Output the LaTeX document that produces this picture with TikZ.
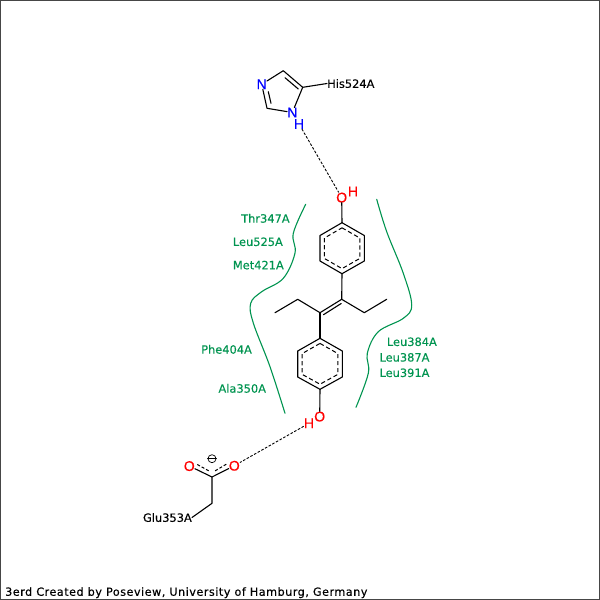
\documentclass[tikz,border=0pt]{standalone}
\usepackage{fontspec}
\usetikzlibrary{calc}
\setmainfont{DejaVu Sans}
\newfontfamily\labfont[FakeBold=0.35]{DejaVu Sans}
\newfontfamily\footfont[FakeBold=0.35,LetterSpace=4.5]{DejaVu Sans}
\newfontfamily\atomfont[FakeBold=0.5]{Liberation Sans}
\definecolor{resgreen}{RGB}{0,148,80}
\definecolor{frameg}{RGB}{70,70,70}
\tikzset{
  bond/.style={draw=black,line width=1.1pt,line cap=round,line join=round},
  arom/.style={draw=black,line width=1pt,dash pattern=on 4.2pt off 2.8pt},
  hbond/.style={draw=black,line width=0.9pt,dash pattern=on 2.6pt off 1.6pt},
  contour/.style={draw=resgreen,line width=1.1pt,line cap=round},
  atom/.style={inner sep=0pt,font=\atomfont\fontsize{14}{15}\selectfont},
  redatom/.style={atom,text=red},
  blueatom/.style={atom,text=blue},
  reslabel/.style={inner sep=0pt,font=\labfont\fontsize{11.4}{12}\selectfont},
  greenlabel/.style={reslabel,text=resgreen},
  every node/.append style={text depth=0pt}
}
\begin{document}
\begin{tikzpicture}[x=1pt,y=-1pt]
\useasboundingbox (0,0) rectangle (600,600);
\fill[white] (0,0) rectangle (600,600);
\draw[frameg,line width=1pt] (0.5,0.5) rectangle (599.5,599.5);
% imidazole
\node[blueatom] (N3) at (261.7,84.3) {N};
\node[blueatom] (N1) at (292.3,112.5) {N};
\node[blueatom] (H1) at (299,124) {H};
\coordinate (C5) at (283.3,70.7);
\coordinate (C4) at (302.7,87.3);
\coordinate (C2) at (267,108.3);
\node[reslabel,anchor=west] (His) at (327,83.5) {His524A};
\draw[bond] (N3) -- (C5) -- (C4) -- (N1) -- (C2) -- (N3);
\draw[bond] ($(C5)+(1.7,7)$) -- ($(C4)+(-4.4,1.7)$);
\draw[bond] ($(C2)+(4,-5)$) -- ($(N3)+(6.6,7.4)$);
\draw[bond] (C4) -- (His.west);
% upper phenol
\node[redatom] (O1) at (341.7,197.5) {O};
\node[redatom] (HO1) at (353,191.5) {H};
\draw[hbond] (H1) -- (O1);
\coordinate (A1) at (342,222.7);
\coordinate (A2) at (364.3,235.5);
\coordinate (A3) at (364.3,261);
\coordinate (A4) at (342,273.7);
\coordinate (A5) at (320,261);
\coordinate (A6) at (320,235.5);
\coordinate (AC) at (342,248.2);
\draw[bond] (A1) -- (A2) -- (A3) -- (A4) -- (A5) -- (A6) -- cycle;
\draw[bond] (O1) -- (A1);
\draw[arom] ($(AC)!0.8!(A1)$) -- ($(AC)!0.8!(A2)$) -- ($(AC)!0.8!(A3)$) -- ($(AC)!0.8!(A4)$) -- ($(AC)!0.8!(A5)$) -- ($(AC)!0.8!(A6)$) -- cycle;
% central alkene
\coordinate (D1) at (341.7,299.3);
\coordinate (D2) at (320,312.7);
\coordinate (E1) at (364.3,312.7);
\coordinate (E2) at (386.7,299.3);
\coordinate (F1) at (297.7,299.3);
\coordinate (F2) at (275,312.7);
\draw[bond] (A4) -- (D1) -- (D2);
\draw[bond] (D1) -- (E1) -- (E2);
\draw[bond] (D2) -- (F1) -- (F2);
\draw[bond] ($(D1)+(-0.5,4.2)$) -- ($(D2)+(3.5,2)$);
% lower phenol
\coordinate (B1) at (320,338.3);
\coordinate (B2) at (342.3,351);
\coordinate (B3) at (342.3,377);
\coordinate (B4) at (320,389.3);
\coordinate (B5) at (297.7,377);
\coordinate (B6) at (297.7,351);
\coordinate (BC) at (320,363.8);
\draw[bond] (D2) -- (B1);
\draw[bond] (B1) -- (B2) -- (B3) -- (B4) -- (B5) -- (B6) -- cycle;
\draw[arom] ($(BC)!0.8!(B1)$) -- ($(BC)!0.8!(B2)$) -- ($(BC)!0.8!(B3)$) -- ($(BC)!0.8!(B4)$) -- ($(BC)!0.8!(B5)$) -- ($(BC)!0.8!(B6)$) -- cycle;
\node[redatom] (O2) at (319.7,416.5) {O};
\node[redatom] (HO2) at (309,423.3) {H};
\draw[bond] (B4) -- (O2);
% carboxylate
\node[redatom] (O3) at (234.3,465.7) {O};
\node[redatom] (O4) at (189.3,466) {O};
\coordinate (C1) at (212,477);
\coordinate (CH) at (212,503.3);
\node[reslabel,anchor=east] (Glu) at (192,517.5) {Glu353A};
\draw[hbond] (HO2) -- (O3);
\draw[bond] (O4) -- (C1) -- (O3);
\draw[arom,dash pattern=on 3pt off 2pt] ($(O4)+(8,-1.5)$) -- ($(C1)+(-2,-5.5)$);
\draw[arom,dash pattern=on 3pt off 2pt] ($(O3)+(-8,-1.5)$) -- ($(C1)+(2,-5.5)$);
\draw[bond] (C1) -- (CH) -- (Glu.east);
\node[draw=black,circle,line width=0.7pt,minimum size=8pt,inner sep=0pt] (Neg) at (212,458.7) {};
\draw[bond,line width=0.9pt] (Neg.west) -- (Neg.east);
% contours
\draw[contour] plot[smooth,tension=0.6] coordinates {(305.7,204.3) (293.3,233.3) (295,253) (283.3,278.3) (261.7,291.7) (250.7,303.3) (253.3,323) (270,366.7) (285,413.3)};
\draw[contour] plot[smooth,tension=0.6] coordinates {(376.7,199.3) (386.7,231.7) (403.3,273.3) (411.7,305) (403.3,318.3) (378.3,331.7) (367.3,353.3) (368.3,373.3) (356,407.3)};
% residue labels
\node[greenlabel,anchor=west] (Thr) at (241,218.3) {Thr347A};
\node[greenlabel,anchor=west] (Leua) at (232.7,241.7) {Leu525A};
\node[greenlabel,anchor=west] (Met) at (232.7,265) {Met421A};
\node[greenlabel,anchor=west] (Phe) at (201,349.3) {Phe404A};
\node[greenlabel,anchor=west] (Ala) at (218.3,388.3) {Ala350A};
\node[greenlabel,anchor=west] (Leub) at (386.7,341.7) {Leu384A};
\node[greenlabel,anchor=west] (Leuc) at (379.3,357.3) {Leu387A};
\node[greenlabel,anchor=west] (Leud) at (379.3,372.7) {Leu391A};
\node[reslabel,anchor=west,font=\footfont\fontsize{11.2}{12}\selectfont] (Foot) at (5,591.5) {3erd Created by Poseview, University of Hamburg, Germany};
\end{tikzpicture}
\end{document}
